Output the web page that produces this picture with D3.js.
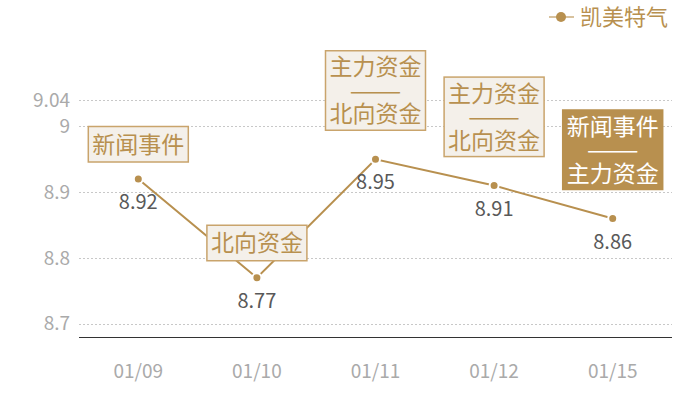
<!DOCTYPE html>
<html>
<head>
<meta charset="utf-8">
<script src="https://cdn.jsdelivr.net/npm/d3@7"></script>
<style>
  body { margin: 0; background: #fff; }
  text { font-family: "Noto Sans CJK SC", "Noto Sans", sans-serif; }
</style>
</head>
<body>
<svg id="chart" width="700" height="400"></svg>
<script>
const dates = ["01/09", "01/10", "01/11", "01/12", "01/15"];
const prices = [8.92, 8.77, 8.95, 8.91, 8.86];
const events = [
  ["新闻事件"],
  ["北向资金"],
  ["主力资金", "——", "北向资金"],
  ["主力资金", "——", "北向资金"],
  ["新闻事件", "——", "主力资金"]
];
const highlighted = [false, false, false, false, true];
const yTicks = [8.7, 8.8, 8.9, 9, 9.04];
const seriesName = "凯美特气";

const gold = "#b8904f";
const svg = d3.select("#chart");
const plotLeft = 79, plotRight = 672, plotTop = 100, plotBottom = 337;

const x = d3.scalePoint().domain(dates).range([plotLeft, plotRight]).padding(0.5);
const y = d3.scaleLinear().domain([8.68, 9.04]).range([plotBottom, plotTop]);

// grid
svg.append("g").selectAll("line")
  .data(yTicks)
  .join("line")
  .attr("x1", plotLeft).attr("x2", plotRight)
  .attr("y1", d => Math.round(y(d)) + 0.5).attr("y2", d => Math.round(y(d)) + 0.5)
  .attr("stroke", "#c8c8c8")
  .attr("stroke-dasharray", "2,2");

svg.append("g").selectAll("text")
  .data(yTicks)
  .join("text")
  .attr("x", 70).attr("y", d => y(d))
  .attr("dy", "0.35em")
  .attr("text-anchor", "end")
  .attr("fill", "#aaa")
  .style("font-size", "19px")
  .text(d => d);

// x axis
svg.append("line")
  .attr("x1", plotLeft).attr("x2", plotRight)
  .attr("y1", plotBottom + 0.5).attr("y2", plotBottom + 0.5)
  .attr("stroke", "#333");

svg.append("g").selectAll("text")
  .data(dates)
  .join("text")
  .attr("x", d => x(d)).attr("y", 378)
  .attr("text-anchor", "middle")
  .attr("fill", "#aaa")
  .style("font-size", "19px")
  .text(d => d);

// line
const pts = dates.map((d, i) => [x(d), y(prices[i])]);
svg.append("path")
  .attr("d", d3.line()(pts))
  .attr("fill", "none")
  .attr("stroke", gold)
  .attr("stroke-width", 2);

// value labels
svg.append("g").selectAll("text")
  .data(pts)
  .join("text")
  .attr("x", d => d[0]).attr("y", d => d[1] + 30)
  .attr("text-anchor", "middle")
  .attr("fill", "#595959")
  .style("font-size", "20px")
  .text((d, i) => prices[i]);

svg.append("g").selectAll("circle")
  .data(pts)
  .join("circle")
  .attr("cx", d => d[0]).attr("cy", d => d[1])
  .attr("r", 4.5)
  .attr("fill", gold)
  .attr("stroke", "#fff")
  .attr("stroke-width", 2);

// event boxes, one text element per box with a tspan per line
const lineH = 23.5;
events.forEach((lines, i) => {
  const [px, py] = pts[i];
  const h = lines.length * lineH + (lines.length > 1 ? 9 : 12);
  const w = 100;
  const gap = lines.length > 1 ? 29 : 17;
  const by = py - gap - h;
  const g = svg.append("g");
  g.append("rect")
    .attr("x", px - w / 2).attr("y", by)
    .attr("width", w).attr("height", h)
    .attr("fill", highlighted[i] ? gold : "#f4f0ea")
    .attr("stroke", highlighted[i] ? gold : "#c9a46c")
    .attr("stroke-width", 1.5);
  const startY = by + h / 2 - (lines.length - 1) * lineH / 2;
  const t = g.append("text")
    .attr("text-anchor", "middle")
    .attr("fill", highlighted[i] ? "#fff" : gold)
    .style("font-size", "23px");
  lines.forEach((d, j) => {
    const s = t.append("tspan")
      .attr("x", px)
      .attr("y", startY + j * lineH)
      .attr("dy", "0.36em")
      .text(d);
    if (d === "——") s.attr("textLength", 52).attr("lengthAdjust", "spacingAndGlyphs");
  });
});

// legend
const lg = svg.append("g");
lg.append("line")
  .attr("x1", 549).attr("x2", 574).attr("y1", 17).attr("y2", 17)
  .attr("stroke", "#d8c29e").attr("stroke-width", 2);
lg.append("circle")
  .attr("cx", 561).attr("cy", 17).attr("r", 5)
  .attr("fill", gold);
lg.append("text")
  .attr("x", 580).attr("y", 17).attr("dy", "0.36em")
  .attr("fill", gold)
  .style("font-size", "22px")
  .text(seriesName);
</script>
</body>
</html>
